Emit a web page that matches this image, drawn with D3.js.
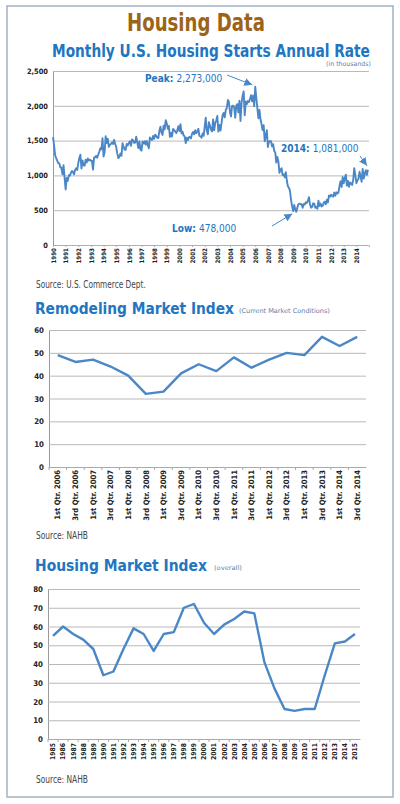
<!DOCTYPE html>
<html>
<head>
  <meta charset="UTF-8" />
  <title>Housing Data</title>
  <script src="https://cdn.jsdelivr.net/npm/d3@7/dist/d3.min.js"></script>
  <style>
    body { margin: 0; background: #fff; }
    text { font-family: "DejaVu Sans Condensed", "Liberation Sans Narrow", "Roboto", sans-serif; }
    .head { font-family: "Liberation Sans Narrow", "DejaVu Sans Condensed", sans-serif; }
    .grid line { stroke: #b9b9b9; }
    .grid path { stroke: #9a9a9a; }
    .lbl { font-weight: bold; fill: #222; }
  </style>
</head>
<body>
  <svg width="400" height="804"></svg>
  <script>
    // ---- data ----
    // monthly housing starts, annual rate (thousands), Jan..Dec
    var startsYears = [1990, 1991, 1992, 1993, 1994, 1995, 1996, 1997, 1998, 1999, 2000, 2001,
      2002, 2003, 2004, 2005, 2006, 2007, 2008, 2009, 2010, 2011, 2012, 2013, 2014];
    var startsValues = [
      [1551, 1437, 1289, 1248, 1212, 1177, 1171, 1115, 1110, 1014, 1145, 969],
      [798, 965, 921, 1001, 996, 1036, 1063, 1049, 1015, 1079, 1103, 1079],
      [1176, 1250, 1297, 1099, 1214, 1145, 1139, 1226, 1186, 1244, 1214, 1227],
      [1210, 1210, 1083, 1258, 1260, 1280, 1254, 1300, 1343, 1392, 1376, 1533],
      [1272, 1337, 1564, 1465, 1526, 1409, 1439, 1450, 1474, 1450, 1511, 1455],
      [1407, 1316, 1249, 1267, 1314, 1281, 1461, 1416, 1369, 1369, 1452, 1431],
      [1467, 1491, 1424, 1516, 1504, 1467, 1472, 1557, 1475, 1392, 1489, 1370],
      [1355, 1486, 1457, 1492, 1442, 1494, 1437, 1390, 1546, 1520, 1510, 1566],
      [1525, 1584, 1567, 1540, 1536, 1641, 1698, 1614, 1582, 1715, 1660, 1792],
      [1748, 1670, 1710, 1553, 1611, 1559, 1669, 1648, 1635, 1608, 1648, 1708],
      [1636, 1737, 1604, 1626, 1575, 1559, 1463, 1541, 1507, 1549, 1551, 1532],
      [1600, 1625, 1590, 1649, 1605, 1636, 1670, 1567, 1562, 1540, 1602, 1568],
      [1698, 1829, 1642, 1592, 1764, 1717, 1655, 1633, 1804, 1648, 1753, 1788],
      [1853, 1629, 1726, 1643, 1751, 1867, 1897, 1833, 1939, 1967, 2083, 2057],
      [1911, 1846, 1998, 2003, 1981, 1828, 2002, 2024, 1905, 2072, 1782, 2042],
      [2144, 2207, 1864, 2061, 2025, 2068, 2054, 2095, 2151, 2065, 2147, 1994],
      [2273, 2119, 1969, 1821, 1942, 1802, 1737, 1650, 1720, 1491, 1570, 1649],
      [1409, 1480, 1495, 1490, 1415, 1448, 1354, 1330, 1183, 1264, 1197, 1037],
      [1084, 1103, 1005, 1013, 973, 1046, 923, 844, 820, 777, 645, 560],
      [488, 574, 509, 478, 540, 585, 594, 586, 585, 534, 588, 581],
      [614, 604, 636, 687, 583, 536, 546, 599, 595, 534, 545, 520],
      [636, 561, 595, 554, 561, 608, 623, 585, 650, 611, 711, 694],
      [723, 704, 695, 753, 708, 757, 741, 754, 847, 915, 833, 976],
      [888, 962, 1010, 853, 919, 835, 898, 883, 863, 936, 1105, 1003],
      [888, 928, 950, 1052, 985, 909, 1093, 956, 1026, 1075, 1007, 1081]
    ];
    var startsTicks = [0, 500, 1000, 1500, 2000, 2500];

    var remodelQuarters = ["1st Qtr. 2006", "3rd Qtr. 2006", "1st Qtr. 2007", "3rd Qtr. 2007",
      "1st Qtr. 2008", "3rd Qtr. 2008", "1st Qtr. 2009", "3rd Qtr. 2009", "1st Qtr. 2010",
      "3rd Qtr. 2010", "1st Qtr. 2011", "3rd Qtr. 2011", "1st Qtr. 2012", "3rd Qtr. 2012",
      "1st Qtr. 2013", "3rd Qtr. 2013", "1st Qtr. 2014", "3rd Qtr. 2014"];
    var remodelValues = [49, 46, 47, 44, 40, 32, 33, 41, 45, 42, 48, 43.5, 47, 50, 49, 57, 53, 57];
    var remodelTicks = [0, 10, 20, 30, 40, 50, 60];

    var hmiYears = ["1985", "1986", "1987", "1988", "1989", "1990", "1991", "1992", "1993", "1994",
      "1995", "1996", "1997", "1998", "1999", "2000", "2001", "2002", "2003", "2004", "2005",
      "2006", "2007", "2008", "2009", "2010", "2011", "2012", "2013", "2014", "2015"];
    var hmiValues = [55, 60, 56, 53, 48, 34, 36, 48, 59, 56, 47, 56, 57, 70, 72, 62, 56, 61, 64, 68, 67,
      41, 27, 16, 15, 16, 16, 34, 51, 52, 56];
    var hmiTicks = [0, 10, 20, 30, 40, 50, 60, 70, 80];

    var blue = "#2275c1";
    var lineBlue = "#4b87c7";

    var svg = d3.select("svg");

    // outer frame
    svg.append("rect")
      .attr("x", 7).attr("y", 6)
      .attr("width", 386).attr("height", 791)
      .attr("fill", "none")
      .attr("stroke", "#a3b2c6")
      .attr("stroke-width", 1.5);

    // text squeezed horizontally to a given width (condensed look)
    function fitText(txt, x, y, size, len, color, bold, anchor) {
      var t = svg.append("text")
        .attr("class", "head")
        .attr("font-size", size)
        .attr("font-weight", bold ? "bold" : "normal")
        .attr("fill", color)
        .attr("text-anchor", anchor || "start")
        .text(txt);
      var w = t.node().getComputedTextLength();
      t.attr("transform", "translate(" + x + "," + y + ") scale(" + (len / w) + ",1)");
      return t;
    }

    // headings
    fitText("Housing Data", 196, 31, 25, 138, "#9c6419", true, "middle");
    fitText("Monthly U.S. Housing Starts Annual Rate", 52, 57, 18, 318, blue, true);
    fitText("(in thousands)", 371, 66, 6.5, 45, "#5a7fa8", false, "end");

    // ================= chart 1: housing starts =================
    var x1 = d3.scaleLinear().domain([1990, 2015]).range([53, 369]);
    var y1 = d3.scaleLinear().domain([0, 2500]).range([245, 71]);

    var g1 = svg.append("g");
    var gy1 = g1.append("g").attr("class", "grid")
      .attr("transform", "translate(53,0)")
      .call(d3.axisLeft(y1).tickValues(startsTicks).tickSize(-316).tickPadding(5)
        .tickFormat(d3.format(",")));
    gy1.selectAll("text").attr("class", "lbl").attr("font-size", 7.4);

    var gx1 = g1.append("g")
      .attr("transform", "translate(0,245)")
      .call(d3.axisBottom(x1).tickValues(startsYears).tickSize(2).tickFormat(d3.format("d")));
    gx1.select(".domain").attr("stroke", "#aaa").attr("stroke-dasharray", "1.5,1");
    gx1.selectAll("line").attr("stroke", "#aaa");
    gx1.selectAll("text")
      .attr("class", "lbl")
      .attr("font-size", 6.2)
      .attr("transform", "rotate(-90)")
      .attr("text-anchor", "end")
      .attr("x", -3).attr("y", 0).attr("dy", "0.35em");

    var startsPoints = [];
    startsYears.forEach(function (yr, i) {
      startsValues[i].forEach(function (v, m) {
        startsPoints.push({ t: yr + m / 12, v: v });
      });
    });

    g1.append("path")
      .datum(startsPoints)
      .attr("fill", "none")
      .attr("stroke", lineBlue)
      .attr("stroke-width", 1.9)
      .attr("stroke-linejoin", "round")
      .attr("d", d3.line().x(function (d) { return x1(d.t); }).y(function (d) { return y1(d.v); }));

    // annotations
    svg.append("defs").append("marker")
      .attr("id", "arr")
      .attr("viewBox", "0 -5 10 10")
      .attr("refX", 10).attr("refY", 0)
      .attr("markerUnits", "userSpaceOnUse")
      .attr("markerWidth", 8).attr("markerHeight", 8)
      .attr("orient", "auto")
      .append("path").attr("d", "M0,-5L10,0L0,5Z").attr("fill", lineBlue);

    function callout(label, value, tx, ty, fromX, fromY, toX, toY) {
      var t = svg.append("text").attr("x", tx).attr("y", ty).attr("font-size", 10).attr("fill", blue);
      t.append("tspan").attr("font-weight", "bold").text(label + " ");
      t.append("tspan").text(value);
      svg.append("line")
        .attr("x1", fromX).attr("y1", fromY).attr("x2", toX).attr("y2", toY)
        .attr("stroke", lineBlue).attr("stroke-width", 1)
        .attr("marker-end", "url(#arr)");
    }
    callout("Peak:", "2,273,000", 145, 82, 227, 75, x1(2006) - 3, y1(2273) - 2);
    callout("2014:", "1,081,000", 281, 152, 360, 156, x1(2014 + 11 / 12) - 1, y1(1081) - 4);
    callout("Low:", "478,000", 172, 232, 272, 226, x1(2009 + 3 / 12) - 4, y1(478) + 2);

    fitText("Source: U.S. Commerce Dept.", 36, 288, 10.5, 110, "#444", false);

    // ================= chart 2: remodeling market index =================
    fitText("Remodeling Market Index", 35, 314, 16, 199, blue, true);
    fitText("(Current Market Conditions)", 239, 313, 6.5, 91, "#5a7fa8", false);

    var x2 = d3.scaleBand().domain(remodelQuarters).range([49, 366]);
    var y2 = d3.scaleLinear().domain([0, 60]).range([467, 330]);
    var g2 = svg.append("g");
    var gy2 = g2.append("g").attr("class", "grid")
      .attr("transform", "translate(49,0)")
      .call(d3.axisLeft(y2).tickValues(remodelTicks).tickSize(-317).tickPadding(5));
    gy2.selectAll("text").attr("class", "lbl").attr("font-size", 7.8);

    var gx2 = g2.append("g")
      .attr("transform", "translate(0,467)")
      .call(d3.axisBottom(x2).tickSize(0).tickPadding(0));
    gx2.select(".domain").attr("stroke", "#aaa");
    gx2.selectAll("text")
      .attr("class", "lbl")
      .attr("font-size", 7.6)
      .attr("transform", "rotate(-90)")
      .attr("text-anchor", "end")
      .attr("x", -3).attr("y", 0).attr("dy", "0.35em");
    g2.append("g").selectAll("line")
      .data(remodelQuarters)
      .enter().append("line")
      .attr("x1", function (d) { return x2(d); }).attr("x2", function (d) { return x2(d); })
      .attr("y1", 467).attr("y2", 470)
      .attr("stroke", "#aaa");

    g2.append("path")
      .datum(remodelValues)
      .attr("fill", "none")
      .attr("stroke", lineBlue)
      .attr("stroke-width", 2.4)
      .attr("stroke-linejoin", "round")
      .attr("d", d3.line()
        .x(function (d, i) { return x2(remodelQuarters[i]) + x2.bandwidth() / 2; })
        .y(function (d) { return y2(d); }));

    fitText("Source: NAHB", 36, 539, 10.5, 52, "#444", false);

    // ================= chart 3: housing market index =================
    fitText("Housing Market Index", 35, 571, 16, 172, blue, true);
    fitText("(overall)", 214, 570, 6.5, 28, "#5a7fa8", false);

    var x3 = d3.scaleBand().domain(hmiYears).range([48, 360]);
    var y3 = d3.scaleLinear().domain([0, 80]).range([739, 589]);
    var g3 = svg.append("g");
    var gy3 = g3.append("g").attr("class", "grid")
      .attr("transform", "translate(48,0)")
      .call(d3.axisLeft(y3).tickValues(hmiTicks).tickSize(-312).tickPadding(5));
    gy3.selectAll("text").attr("class", "lbl").attr("font-size", 7.8);

    var gx3 = g3.append("g")
      .attr("transform", "translate(0,739)")
      .call(d3.axisBottom(x3).tickSize(0).tickPadding(0));
    gx3.select(".domain").attr("stroke", "#aaa");
    gx3.selectAll("text")
      .attr("class", "lbl")
      .attr("font-size", 6.8)
      .attr("transform", "rotate(-90)")
      .attr("text-anchor", "end")
      .attr("x", -4).attr("y", 0).attr("dy", "0.35em");
    g3.append("g").selectAll("line")
      .data(hmiYears)
      .enter().append("line")
      .attr("x1", function (d) { return x3(d); }).attr("x2", function (d) { return x3(d); })
      .attr("y1", 739).attr("y2", 742)
      .attr("stroke", "#aaa");

    g3.append("path")
      .datum(hmiValues)
      .attr("fill", "none")
      .attr("stroke", lineBlue)
      .attr("stroke-width", 2.4)
      .attr("stroke-linejoin", "round")
      .attr("d", d3.line()
        .x(function (d, i) { return x3(hmiYears[i]) + x3.bandwidth() / 2; })
        .y(function (d) { return y3(d); }));

    fitText("Source: NAHB", 36, 783, 10.5, 52, "#444", false);
  </script>
</body>
</html>
